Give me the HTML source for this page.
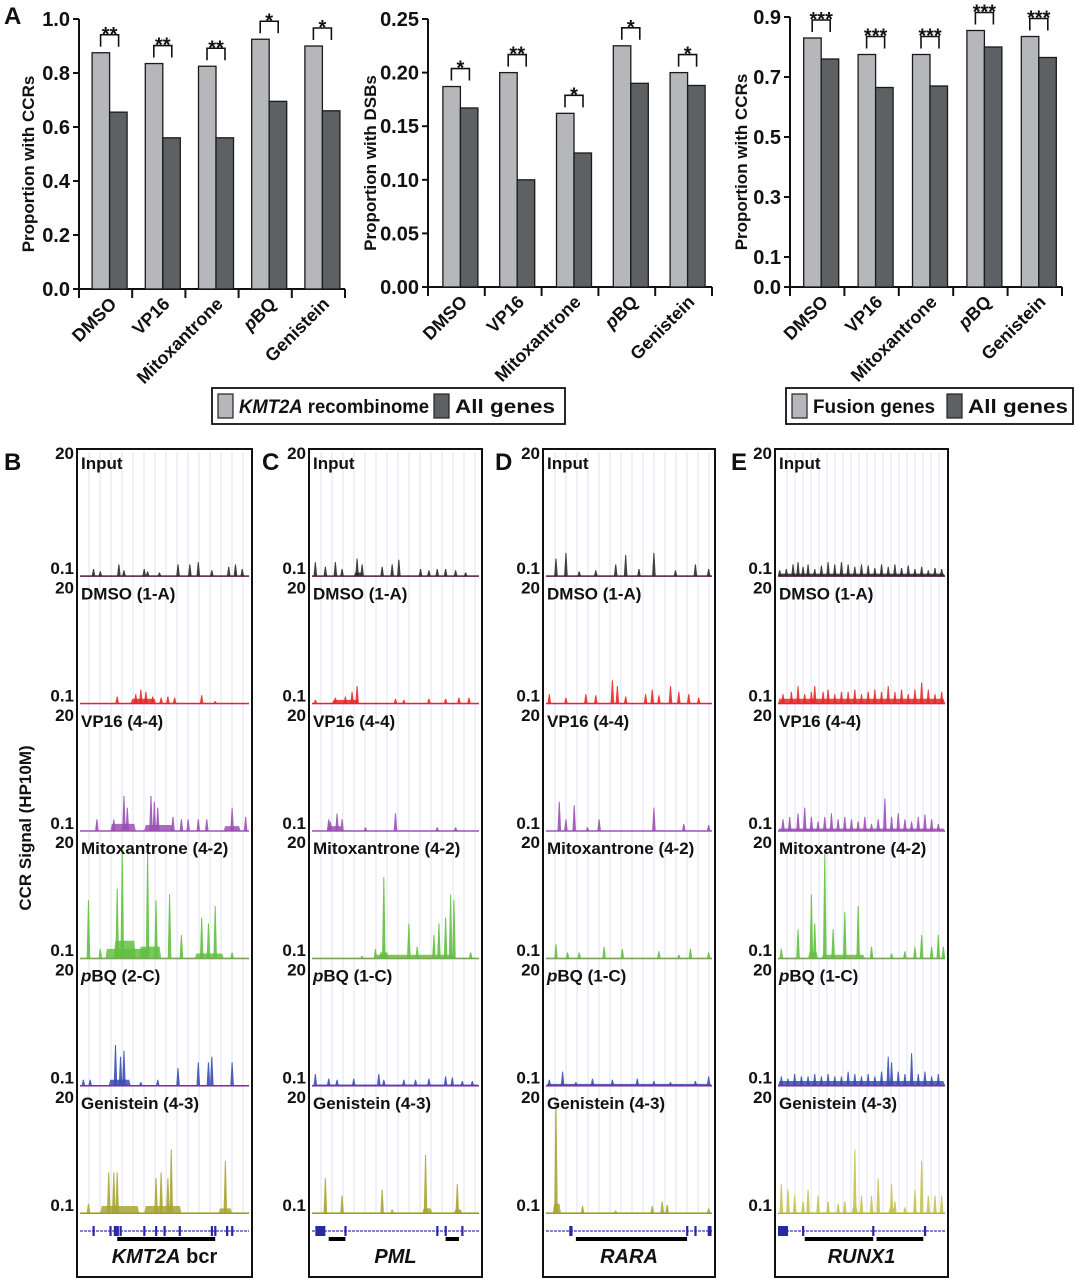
<!DOCTYPE html>
<html><head><meta charset="utf-8"><style>
html,body{margin:0;padding:0;background:#fff;}
svg{display:block;font-family:"Liberation Sans",Arial,sans-serif;}
</style></head><body>
<svg id="fig" width="1075" height="1280" viewBox="0 0 1075 1280" xmlns="http://www.w3.org/2000/svg"></svg>
<script>
// ---------- Bar chart data ----------
const categories = ["DMSO","VP16","Mitoxantrone","pBQ","Genistein"];
const ccrKmt2a = [0.875,0.835,0.825,0.925,0.90];
const ccrAllGenes1 = [0.655,0.56,0.56,0.695,0.66];
const dsbKmt2a = [0.187,0.20,0.162,0.225,0.20];
const dsbAllGenes = [0.167,0.10,0.125,0.19,0.188];
const ccrFusion = [0.83,0.775,0.775,0.855,0.835];
const ccrAllGenes3 = [0.76,0.665,0.67,0.80,0.765];
const sig1 = ["**","**","**","*","*"];
const sig2 = ["*","**","*","*","*"];
const sig3 = ["***","***","***","***","***"];
const ticks1 = ["0.0","0.2","0.4","0.6","0.8","1.0"];
const ticks2 = ["0.00","0.05","0.10","0.15","0.20","0.25"];
const ticks3 = ["0.0","0.1","0.3","0.5","0.7","0.9"];

// ---------- Track data: [position %, height fraction] peaks; humps [x1%, x2%, h] ----------
const trackNames = ["Input","DMSO (1-A)","VP16 (4-4)","Mitoxantrone (4-2)","pBQ","Genistein (4-3)"];
const pbqLabels = ["(2-C)","(1-C)","(1-C)","(1-C)"];
const trackColors = ["#2a2a2a","#e82828","#9a50b4","#62c040","#3a4cb4","#a8a432"];
const genes = ["KMT2A bcr","PML","RARA","RUNX1"];

const peaksB = [
 [[8,.06],[12,.04],[23,.1],[26,.05],[38,.06],[40,.04],[47,.03],[58,.1],[65,.1],[70,.12],[78,.05],[88,.08],[92,.1],[96,.06]],
 [[22,.06],[33,.08],[36,.12],[39,.1],[43,.06],[48,.05],[52,.06],[56,.05],[72,.07],[80,.02]],
 [[10,.1],[20,.1],[26,.3],[28,.2],[42,.3],[44,.25],[46,.2],[55,.12],[60,.1],[64,.1],[70,.1],[75,.1],[90,.2],[98,.12]],
 [[5,.5],[12,.08],[22,.6],[25,.95],[40,.92],[45,.5],[53,.55],[60,.2],[72,.35],[76,.3],[80,.45],[90,.05]],
 [[2,.05],[6,.05],[21,.35],[24,.25],[26,.3],[36,.03],[46,.05],[58,.15],[70,.2],[76,.2],[78,.25],[90,.2]],
 [[5,.08],[17,.35],[20,.35],[22,.35],[45,.3],[48,.35],[52,.3],[54,.55],[86,.45]]
];
const humpsB = [[],[[30,45,.04]],[[18,33,.06],[38,55,.05],[85,95,.04]],[[15,40,.08],[20,33,.15],[35,48,.1],[68,85,.04]],[[17,30,.05]],[[12,35,.06],[38,60,.06],[82,90,.04]]];

const peaksC = [
 [[2,.12],[8,.08],[14,.12],[18,.06],[27,.15],[30,.1],[42,.08],[48,.1],[52,.14],[65,.06],[70,.05],[75,.06],[80,.06],[86,.05],[92,.03]],
 [[2,.03],[14,.05],[20,.06],[24,.1],[27,.15],[50,.04],[55,.03],[70,.04],[80,.04],[88,.05],[94,.05]],
 [[10,.1],[11,.08],[15,.15],[18,.1],[32,.03],[50,.15],[75,.03],[86,.03]],
 [[30,.02],[38,.08],[43,.7],[58,.3],[63,.1],[73,.2],[76,.3],[80,.35],[83,.55],[85,.5],[95,.05]],
 [[2,.1],[10,.06],[15,.05],[25,.06],[40,.1],[43,.05],[55,.05],[62,.05],[70,.06],[80,.08],[84,.07],[90,.04],[96,.04]],
 [[8,.3],[18,.15],[42,.2],[48,.03],[68,.5],[87,.25]]
];
const humpsC = [[[25,30,.03]],[[12,28,.03]],[[9,18,.04]],[[38,86,.03],[40,46,.05]],[[0,100,.01]],[[66,72,.04],[85,90,.03]]];

const peaksD = [
 [[6,.15],[12,.2],[20,.04],[30,.05],[42,.1],[48,.18],[56,.06],[65,.2],[78,.05],[90,.1],[98,.06]],
 [[2,.08],[12,.05],[24,.08],[30,.07],[40,.2],[43,.15],[48,.06],[60,.08],[64,.12],[68,.07],[75,.15],[80,.1],[86,.08],[92,.05]],
 [[8,.25],[12,.1],[17,.22],[25,.03],[32,.1],[65,.2],[83,.06],[98,.05]],
 [[6,.12],[13,.05],[20,.05],[35,.1],[46,.08],[68,.06],[80,.03],[87,.08],[98,.05]],
 [[2,.05],[10,.12],[18,.03],[28,.06],[40,.05],[55,.06],[65,.04],[75,.03],[90,.04],[98,.08]],
 [[6,.95],[22,.06],[42,.02],[64,.06],[70,.1],[73,.07],[98,.04]]
];
const humpsD = [[],[],[],[],[[0,100,.015]],[[4,9,.08]]];

const peaksE = [
 [[1,.05],[5,.06],[9,.1],[12,.12],[15,.08],[18,.1],[22,.06],[26,.09],[30,.12],[34,.1],[38,.12],[42,.1],[46,.08],[50,.1],[54,.09],[58,.07],[62,.1],[66,.08],[70,.1],[74,.07],[78,.09],[82,.06],[86,.08],[90,.05],[94,.07],[98,.06]],
 [[3,.08],[8,.1],[12,.15],[16,.08],[20,.1],[22,.15],[27,.1],[30,.12],[34,.08],[38,.1],[42,.1],[46,.12],[50,.08],[54,.1],[58,.12],[62,.1],[66,.15],[70,.1],[74,.12],[78,.08],[82,.12],[86,.18],[90,.12],[94,.08],[98,.1]],
 [[3,.1],[7,.12],[12,.15],[16,.2],[20,.12],[24,.08],[28,.12],[32,.15],[36,.1],[40,.12],[44,.1],[48,.08],[52,.12],[56,.06],[60,.1],[64,.28],[68,.12],[72,.15],[76,.1],[80,.08],[84,.12],[88,.14],[92,.1],[96,.06]],
 [[2,.08],[12,.25],[20,.55],[22,.3],[28,.9],[33,.25],[40,.4],[48,.45],[56,.1],[68,.04],[76,.06],[82,.1],[86,.2],[92,.1],[96,.2],[99,.1]],
 [[2,.08],[6,.06],[10,.1],[14,.08],[18,.08],[22,.1],[26,.08],[30,.1],[34,.08],[38,.08],[42,.12],[46,.1],[50,.08],[54,.1],[58,.08],[62,.12],[66,.25],[68,.2],[72,.12],[76,.1],[80,.28],[84,.1],[88,.12],[92,.08],[96,.1]],
 [[2,.25],[6,.2],[10,.15],[15,.1],[18,.2],[24,.15],[30,.1],[36,.08],[40,.1],[46,.55],[50,.15],[56,.15],[60,.3],[68,.25],[70,.1],[76,.05],[82,.2],[86,.45],[90,.15],[94,.15],[98,.15]]
];
const humpsE = [[[0,100,.02]],[[0,100,.04]],[[0,100,.02]],[[18,24,.05],[26,52,.03]],[[0,100,.04]],[[44,48,.05],[66,70,.04]]];

const exonsB = [8,18,24,38,45,50,59,78,80,87,90];
const exonsC = [20,75,80,90];
const exonsD = [15,85,90,98,99];
const exonsE = [15,57,88];
const barsB = [[22,80]], barsC = [[10,20],[80,88]], barsD = [[18,85]], barsE = [[16,57],[59,87]];
const thickB = [[20,23]], thickC = [[2,8]], thickD = [[14,16]], thickE = [[0,6]];

// ---------- helpers ----------
const svg = document.getElementById('fig');
const NS = "http://www.w3.org/2000/svg";
function el(tag, attrs, parent){
  const e = document.createElementNS(NS, tag);
  for (const k in attrs) e.setAttribute(k, attrs[k]);
  (parent||svg).appendChild(e);
  return e;
}
function txt(str, attrs, parent){ const t = el('text', attrs, parent); t.textContent = str; return t; }

// ---------- bar charts ----------
function barChart(cfg){
  const g = el('g', {});
  
  
  const y = v => cfg.y0 - (v / cfg.vmax) * (cfg.y0 - cfg.y1);
  const step = (cfg.x1 - cfg.x0) / categories.length;
  const ax = el('path', {d:`M${cfg.x0},${cfg.y1} V${cfg.y0} H${cfg.x1}`, stroke:'#111', 'stroke-width':2, fill:'none'}, g);
  
  
  cfg.ticks.forEach(t => {
    const yy = y(parseFloat(t));
    el('line', {x1:cfg.x0-6, x2:cfg.x0, y1:yy, y2:yy, stroke:'#111','stroke-width':2}, g);
    const tl = txt(t, {x:cfg.x0-9, y:yy+7, 'text-anchor':'end', 'font-size':20, 'font-weight':'bold', fill:'#111'}, g);
    
    
  });
  for (let i=0;i<=categories.length;i++){
    const xx = cfg.x0 + i*step;
    el('line', {x1:xx, x2:xx, y1:cfg.y0, y2:cfg.y0+9, stroke:'#111','stroke-width':2}, g);
  }
  const yt = txt(cfg.title, {transform:`translate(${cfg.titleX},${(cfg.y0+cfg.y1)/2+10}) rotate(-90)`, 'text-anchor':'middle','font-size':17,'font-weight':'bold',fill:'#111'}, g);
  
  
  categories.forEach((c,i) => {
    const cx = cfg.x0 + (i+0.5)*step + 4;
    const a = cfg.a[i], b = cfg.b[i];
    const r1 = el('rect', {x:cx-17.5, y:y(a), width:17.5, height:cfg.y0-y(a), fill:'#b5b7ba', stroke:'#1a1a1a','stroke-width':1.3}, g);
    
    
    const r2 = el('rect', {x:cx, y:y(b), width:17.5, height:cfg.y0-y(b), fill:'#5e6164', stroke:'#1a1a1a','stroke-width':1.3}, g);
    
    
    const top = y(Math.max(a,b));
    const bt = top - 18;
    el('path', {d:`M${cx-9},${top-6} V${bt} H${cx+9} V${top-6}`, stroke:'#111','stroke-width':1.6, fill:'none'}, g);
    const st = txt(cfg.sig[i], {x:cx, y:bt+6, 'text-anchor':'middle','font-size':20,'font-weight':'bold',fill:'#111'}, g);
    
    
    const lx = cx+8, ly = cfg.y0+16;
    const cl = el('text', {transform:`translate(${lx},${ly}) rotate(-45)`, 'text-anchor':'end','font-size':18,'font-weight':'bold',fill:'#111'}, g);
    
    
    if (c === 'pBQ'){
      const t1 = el('tspan', {'font-style':'italic'}, cl); t1.textContent='p';
      const t2 = el('tspan', {}, cl); t2.textContent='BQ';
    } else cl.textContent = c;
  });
}
barChart({name:'chart-ccr-kmt2a', x0:79, x1:345, y0:289, y1:19, vmax:1.0, ticks:ticks1, a:ccrKmt2a, b:ccrAllGenes1, sig:sig1, title:'Proportion with CCRs', titleX:34});
barChart({name:'chart-dsb', x0:428, x1:712, y0:287, y1:19, vmax:0.25, ticks:ticks2, a:dsbKmt2a, b:dsbAllGenes, sig:sig2, title:'Proportion with DSBs', titleX:376});
barChart({name:'chart-ccr-fusion', x0:790, x1:1062, y0:287, y1:17, vmax:0.9, ticks:ticks3, a:ccrFusion, b:ccrAllGenes3, sig:sig3, title:'Proportion with CCRs', titleX:747});

txt('A', {x:4, y:24, 'font-size':24, 'font-weight':'bold', fill:'#111',  });

// legends
function legend(x, y, w, items, name){
  const g = el('g', {});
  
  
  el('rect', {x:x, y:y, width:w, height:36, fill:'#fff', stroke:'#111','stroke-width':1.8}, g);
  items.forEach(it => {
    el('rect', {x:it.sx, y:y+6, width:15, height:24, fill:it.fill, stroke:'#222','stroke-width':1.2}, g);
    const t = el('text', {x:it.sx+21, y:y+25, 'font-size':19,'font-weight':'bold',fill:'#111', textLength:it.tl, lengthAdjust:'spacingAndGlyphs'}, g);
    
    
    if (it.ital){ const a = el('tspan',{'font-style':'italic'},t); a.textContent=it.ital; const b=el('tspan',{},t); b.textContent=it.rest; }
    else t.textContent = it.rest;
  });
}
legend(212, 388, 353, [{sx:218, fill:'#b5b7ba', ital:'KMT2A', rest:' recombinome', tl:190},{sx:434, fill:'#5e6164', rest:'All genes', tl:100}], 'legend-kmt2a');
legend(786, 388, 287, [{sx:792, fill:'#b5b7ba', rest:'Fusion genes', tl:122},{sx:947, fill:'#5e6164', rest:'All genes', tl:100}], 'legend-fusion');

// ---------- track panels ----------
const panels = [
 {L:'B', lx:4, x0:77, x1:252, peaks:peaksB, humps:humpsB, exons:exonsB, bars:barsB, thick:thickB, gene:genes[0], pbq:pbqLabels[0]},
 {L:'C', lx:262, x0:309, x1:482, peaks:peaksC, humps:humpsC, exons:exonsC, bars:barsC, thick:thickC, gene:genes[1], pbq:pbqLabels[1]},
 {L:'D', lx:495, x0:543, x1:715, peaks:peaksD, humps:humpsD, exons:exonsD, bars:barsD, thick:thickD, gene:genes[2], pbq:pbqLabels[2]},
 {L:'E', lx:731, x0:775, x1:948, peaks:peaksE, humps:humpsE, exons:exonsE, bars:barsE, thick:thickE, gene:genes[3], pbq:pbqLabels[3]}
];
const base0 = 576, tstep = 127.4, hmax = 116;
panels.forEach((p, pi) => {
  const g = el('g', {});
  
  
  const ix0 = p.x0+3, ix1 = p.x1-3, iw = ix1-ix0;
  const X = v => ix0 + v/100*iw;
  for (let gx = ix0+9; gx < ix1; gx += (pi===3?8:11)) {
    el('line', {x1:gx, x2:gx, y1:452, y2:1214, stroke:'#e1e1f0','stroke-width':1}, g);
  }
  trackNames.forEach((nm, ti) => {
    const b = base0 + ti*tstep;
    const col = (pi===3 && ti===5) ? '#c4c24e' : trackColors[ti];
    p.humps[ti].forEach(h => {
      const s = el('polygon', {points:`${X(h[0])},${b} ${X(h[0])+1.5},${b-h[2]*hmax} ${X(h[1])-1.5},${b-h[2]*hmax} ${X(h[1])},${b}`, fill:col, opacity:0.85}, g);
      
      
    });
    p.peaks[ti].forEach(pk => {
      const x = X(pk[0]), t = b - pk[1]*hmax;
      const s = el('polygon', {points:`${x-1.8},${b} ${x-0.5},${t} ${x+0.5},${t} ${x+1.8},${b}`, fill:col, opacity:0.9}, g);
      
      
    });
    el('line', {x1:ix0, x2:ix1, y1:b+0.5, y2:b+0.5, stroke:'#d04aa8','stroke-width':1}, g);
    el('line', {x1:ix0, x2:ix1, y1:b, y2:b, stroke:col,'stroke-width':1.2}, g);
    const topY = ti===0 ? b-117 : b-110;
    const sc1 = txt('20', {x:p.x0-3, y:topY, 'text-anchor':'end','font-size':17,'font-weight':'bold',fill:'#111'}, g);
    
    
    const sc2 = txt('0.1', {x:p.x0-3, y:b-2, 'text-anchor':'end','font-size':17,'font-weight':'bold',fill:'#111'}, g);
    
    
    const tl = el('text', {x:p.x0+4, y:ti===0 ? b-107 : b-104, 'font-size':17,'font-weight':'bold',fill:'#111'}, g);
    
    
    if (nm === 'pBQ'){ const a=el('tspan',{'font-style':'italic'},tl); a.textContent='p'; const c=el('tspan',{},tl); c.textContent='BQ '+p.pbq; }
    else tl.textContent = nm;
  });
  const gy = 1231;
  el('line', {x1:ix0, x2:ix1, y1:gy, y2:gy, stroke:'#3a3aa8','stroke-width':1.2,'stroke-dasharray':'3,1'}, g);
  p.exons.forEach(e => el('rect', {x:X(e)-1, y:gy-5, width:2.2, height:10, fill:'#2a2aa0'}, g));
  p.thick.forEach(t => el('rect', {x:X(t[0]), y:gy-5, width:X(t[1])-X(t[0]), height:10, fill:'#2a2aa0'}, g));
  p.bars.forEach(bb => {
    const r = el('rect', {x:X(bb[0]), y:1237, width:X(bb[1])-X(bb[0]), height:4, fill:'#000'}, g);
    
    
  });
  const gn = el('text', {x:(p.x0+p.x1)/2, y:1263, 'text-anchor':'middle','font-size':20,'font-weight':'bold',fill:'#111'}, g);
  
  
  if (p.gene === 'KMT2A bcr'){ const a=el('tspan',{'font-style':'italic'},gn); a.textContent='KMT2A'; const c=el('tspan',{},gn); c.textContent=' bcr'; }
  else { gn.setAttribute('font-style','italic'); gn.textContent = p.gene; }
  el('rect', {x:p.x0, y:449, width:p.x1-p.x0, height:828, fill:'none', stroke:'#111','stroke-width':2}, g);
  const pl = txt(p.L, {x:p.lx, y:470, 'font-size':24,'font-weight':'bold',fill:'#111'}, g);
  
  
});
const yt = txt('CCR Signal (HP10M)', {transform:'translate(31,828) rotate(-90)', 'text-anchor':'middle','font-size':17,'font-weight':'bold',fill:'#111'});


</script>
</body></html>
